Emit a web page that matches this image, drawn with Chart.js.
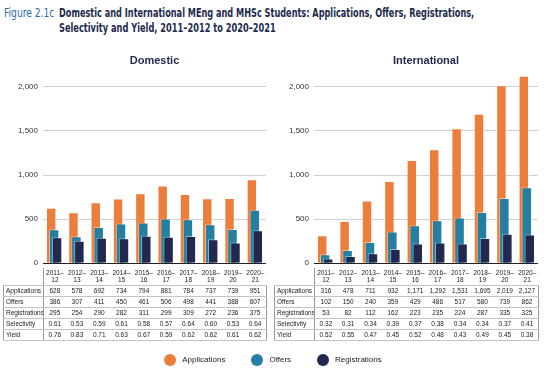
<!DOCTYPE html>
<html>
<head>
<meta charset="utf-8">
<script src="https://cdn.jsdelivr.net/npm/chart.js@4.4.0/dist/chart.umd.min.js"></script>
<style>
body{margin:0;width:546px;height:369px;background:#fff;position:relative;overflow:hidden;font-family:"Liberation Sans",Arial,sans-serif;}
.tline{position:absolute;font-family:"Liberation Sans Narrow","DejaVu Sans Condensed",sans-serif;font-size:12px;line-height:15px;white-space:nowrap;transform-origin:0 0;}
.fig{color:#2b6aa8;}
.bold{font-weight:bold;color:#1d2a4d;}
.box{position:absolute;top:52px;height:221px;}
table.data{position:absolute;top:268px;border-collapse:collapse;table-layout:fixed;font-size:6.5px;color:#222;}
table.data td{padding:0;text-align:center;height:10px;line-height:10px;border-bottom:1px solid #c4c4c4;white-space:nowrap;overflow:hidden;}
table.data td.lab{text-align:left;padding-left:2px;border-left:1px solid #999;border-right:1px solid #999;}
table.data td.last{border-right:1px solid #999;}
table.data tr.head td{height:17px;line-height:6.5px;border-bottom:1px solid #c4c4c4;}
table.data tr.head td.lab{border-left:none;}
table.data tr.head td.last{border-right:none;}
#legend{position:absolute;left:0;top:353px;width:546px;text-align:center;font-size:8px;color:#222;}
#legend span.item{display:inline-block;margin:0 13px;line-height:14px;}
#legend span.dot{display:inline-block;width:12px;height:12px;border-radius:6px;vertical-align:middle;margin-right:6px;}
</style>
</head>
<body>
<div class="tline fig" style="left:4px;top:6px;" data-w="50">Figure 2.1c</div>
<div class="tline bold" style="left:59px;top:6px;" data-w="415">Domestic and International MEng and MHSc Students: Applications, Offers, Registrations,</div>
<div class="tline bold" style="left:59px;top:21px;" data-w="217">Selectivity and Yield, 2011–2012 to 2020–2021</div>

<div class="box" style="left:0;width:267px;"><canvas id="domChart"></canvas></div>
<div class="box" style="left:271px;width:268px;"><canvas id="intChart"></canvas></div>
<table class="data" id="domTable" style="left:3px;"></table>
<table class="data" id="intTable" style="left:274px;"></table>
<div id="legend"></div>

<script>
//年份
var years=["2011–12","2012–13","2013–14","2014–15","2015–16","2016–17","2017–18","2018–19","2019–20","2020–21"];
var seriesNames=["Applications","Offers","Registrations"];
var seriesColors=["#ec7d3b","#2480a2","#23294e"];
var yTicks=[0,500,1000,1500,2000];
var yMax=2200;

//domestic
var domApplications=[628,578,692,734,794,881,784,737,739,951];
var domOffers=[386,307,411,450,461,506,498,441,388,607];
var domRegistrations=[295,254,290,282,311,299,309,272,236,375];
var domSelectivity=[0.61,0.53,0.59,0.61,0.58,0.57,0.64,0.60,0.53,0.64];
var domYield=[0.76,0.83,0.71,0.63,0.67,0.59,0.62,0.62,0.61,0.62];

//international
var intApplications=[316,478,711,932,1171,1292,1531,1695,2019,2127];
var intOffers=[102,150,240,359,429,486,517,580,739,862];
var intRegistrations=[53,82,112,162,223,235,224,287,335,325];
var intSelectivity=[0.32,0.31,0.34,0.39,0.37,0.38,0.34,0.34,0.37,0.41];
var intYield=[0.52,0.55,0.47,0.45,0.52,0.48,0.43,0.49,0.45,0.38];

//later datasets on top (chart.js draws them backwards by default)
var drawForward={
	id:'drawForward',
	beforeDatasetsDraw:function(chart){
		var metas=chart.getSortedVisibleDatasetMetas();
		for(var i=0;i<metas.length;i++){
			chart._drawDataset(metas[i]);
		}
		return false;
	}
};

var fmtCount=function(v){ return v.toLocaleString('en-US'); };
var fmtRatio=function(v){ return v.toFixed(2); };

//condensed title: squeeze each line to the width of the original
var fitTitle=function(){
	var lines=document.querySelectorAll('.tline');
	for(var i=0;i<lines.length;i++){
		var w=lines[i].offsetWidth;
		var target=parseFloat(lines[i].getAttribute('data-w'));
		lines[i].style.transform='scaleX('+(target/w)+')';
	}
};

var initBarChart=function(id,title,series){
	var ctx=document.getElementById(id).getContext("2d");
	var datasets=[];
	for(var i=0;i<series.length;i++){
		datasets.push({
			label:seriesNames[i],
			data:series[i],
			backgroundColor:seriesColors[i],
			borderColor:"rgba(255,255,255,0.45)",
			borderWidth:1,
			borderSkipped:'bottom',
			categoryPercentage:0.4,
			barPercentage:3.5
		});
	}
	return new Chart(ctx,{
		type:'bar',
		data:{labels:years,datasets:datasets},
		plugins:[drawForward],
		options:{
			responsive:true,
			maintainAspectRatio:false,
			animation:false,
			layout:{padding:{right:1}},
			plugins:{
				legend:{display:false},
				tooltip:{enabled:false},
				title:{
					display:true,
					text:title,
					fullSize:false,
					color:'#1d2a4d',
					font:{size:11,weight:'bold',family:'Liberation Sans'},
					padding:{top:2,bottom:2}
				}
			},
			scales:{
				x:{display:false},
				y:{
					min:0,
					max:yMax,
					afterBuildTicks:function(axis){
						axis.ticks=yTicks.map(function(v){ return {value:v}; });
					},
					afterFit:function(axis){ axis.width=43; },
					border:{display:false},
					grid:{
						drawTicks:false,
						lineWidth:1,
						color:function(c){ return c.tick && c.tick.value===0 ? '#222' : '#cfcfcf'; }
					},
					ticks:{
						padding:5,
						color:'#333',
						font:{size:8,family:'Liberation Sans'},
						callback:function(v){ return fmtCount(v); }
					}
				}
			}
		}
	});
};

//表格
var buildTable=function(id,rows,labW,colW){
	var html='<colgroup><col style="width:'+labW+'px">';
	for(var i=0;i<years.length;i++) html+='<col style="width:'+colW+'px">';
	html+='</colgroup><tr class="head"><td class="lab"></td>';
	for(var i=0;i<years.length;i++){
		var p=years[i].split('–');
		html+='<td'+(i==years.length-1?' class="last"':'')+'>'+p[0]+'–<br>'+p[1]+'</td>';
	}
	html+='</tr>';
	for(var r=0;r<rows.length;r++){
		html+='<tr><td class="lab">'+rows[r][0]+'</td>';
		for(var i=0;i<rows[r][1].length;i++){
			html+='<td'+(i==rows[r][1].length-1?' class="last"':'')+'>'+rows[r][2](rows[r][1][i])+'</td>';
		}
		html+='</tr>';
	}
	var t=document.getElementById(id);
	t.innerHTML=html;
	t.style.width=(labW+colW*years.length)+'px';
};

var buildLegend=function(){
	var html='';
	for(var i=0;i<seriesNames.length;i++){
		html+='<span class="item"><span class="dot" style="background:'+seriesColors[i]+'"></span>'+seriesNames[i]+'</span>';
	}
	document.getElementById('legend').innerHTML=html;
};

fitTitle();
initBarChart("domChart","Domestic",[domApplications,domOffers,domRegistrations]);
initBarChart("intChart","International",[intApplications,intOffers,intRegistrations]);

buildTable("domTable",[
	["Applications",domApplications,fmtCount],
	["Offers",domOffers,fmtCount],
	["Registrations",domRegistrations,fmtCount],
	["Selectivity",domSelectivity,fmtRatio],
	["Yield",domYield,fmtRatio]
],40,22.3);
buildTable("intTable",[
	["Applications",intApplications,fmtCount],
	["Offers",intOffers,fmtCount],
	["Registrations",intRegistrations,fmtCount],
	["Selectivity",intSelectivity,fmtRatio],
	["Yield",intYield,fmtRatio]
],40,22.4);
buildLegend();
</script>
</body>
</html>
